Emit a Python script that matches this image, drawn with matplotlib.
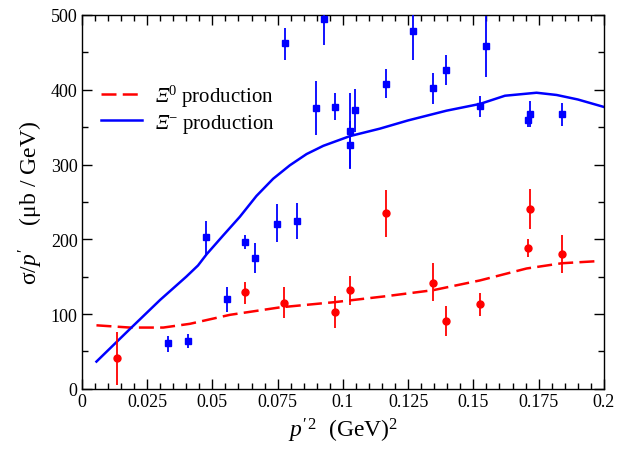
import matplotlib
matplotlib.use("Agg")
import matplotlib.pyplot as plt
from matplotlib.ticker import MultipleLocator, FixedFormatter, FixedLocator

plt.rcParams['font.family'] = ['Liberation Serif', 'DejaVu Serif']
plt.rcParams['mathtext.fontset'] = 'custom'
plt.rcParams['mathtext.rm'] = 'Liberation Serif'
plt.rcParams['mathtext.it'] = 'Liberation Serif:italic'
plt.rcParams['mathtext.bf'] = 'Liberation Serif:bold'
# slanted slot used for the italic capital Xi
plt.rcParams['mathtext.sf'] = 'Liberation Serif:italic'

# Xi^- production data (blue squares)
xm_x = [0.0331, 0.0407, 0.0476, 0.0556, 0.0625, 0.0665, 0.0746, 0.0777, 0.0824,
        0.0898, 0.0927, 0.0969, 0.1027, 0.1027, 0.1045, 0.1167, 0.1267, 0.1345,
        0.1396, 0.1525, 0.1549, 0.1708, 0.1718, 0.1840]
xm_y = [61, 64, 203, 120, 197, 175, 221, 462, 225,
        375, 495, 377, 345, 326, 373, 408, 479, 402,
        427, 378, 458, 359, 368, 367]
xm_lo = [12, 10, 25, 17, 10, 20, 25, 22, 25,
         36, 35, 17, 50, 32, 29, 19, 39, 21,
         21, 14, 41, 9, 18, 16]
xm_hi = [10, 9, 22, 16, 9, 20, 26, 20, 24,
         37, 35, 18, 50, 32, 28, 20, 39, 20,
         20, 13, 41, 9, 17, 15]

# Xi^0 production data (red circles)
x0_x = [0.0134, 0.0625, 0.0775, 0.0969, 0.1027, 0.1167, 0.1345, 0.1396,
        0.1525, 0.1708, 0.1718, 0.1839]
x0_y = [41, 129, 115, 103, 132, 235, 142, 91, 113, 189, 240, 180]
x0_lo = [36, 15, 20, 21, 20, 32, 25, 20, 16, 12, 26, 25]
x0_hi = [35, 14, 21, 21, 19, 31, 26, 20, 15, 11, 27, 26]

# Model curves
curve_m_x = [0.0056, 0.0184, 0.03, 0.04, 0.0445, 0.0478, 0.0541, 0.0605, 0.0669,
             0.0733, 0.0797, 0.0861, 0.0925, 0.1027, 0.1142, 0.125, 0.1397,
             0.1525, 0.1621, 0.1742, 0.1819, 0.19, 0.2]
curve_m_y = [36.5, 80, 119, 150, 165, 180, 205, 230, 258,
             281, 299, 314, 325, 338, 348, 359, 372,
             381, 392, 396, 393, 387, 377]
curve_0_x = [0.0056, 0.0184, 0.0312, 0.0414, 0.0567, 0.0759, 0.0969, 0.1167,
             0.1346, 0.1525, 0.1704, 0.1839, 0.1985]
curve_0_y = [85, 82, 82, 87, 99, 109, 116, 124, 132, 145, 161, 168, 171]

x_ticks = [0, 0.025, 0.05, 0.075, 0.1, 0.125, 0.15, 0.175, 0.2]
x_tick_labels = ['0', '0.025', '0.05', '0.075', '0.1', '0.125', '0.15', '0.175', '0.2']
y_ticks = [0, 100, 200, 300, 400, 500]

fig = plt.figure(figsize=(6.2, 4.56), dpi=100)
ax = fig.add_axes([0.132, 0.145, 0.842, 0.82])

red = '#ff0000'
blue = '#0000ff'

ax.plot(curve_0_x, curve_0_y, color=red, lw=1.8, dashes=(6, 2.5),
        label=r'$\mathsf{\Xi}^{0}$ production')
ax.plot(curve_m_x, curve_m_y, color=blue, lw=1.8,
        label=r'$\mathsf{\Xi}^{-}$ production')

ax.errorbar(xm_x, xm_y, yerr=[xm_lo, xm_hi], fmt='s', color=blue, ms=5,
            elinewidth=1.3, capsize=0, zorder=3)
ax.errorbar(x0_x, x0_y, yerr=[x0_lo, x0_hi], fmt='o', color=red, ms=5,
            elinewidth=1.3, capsize=0, zorder=3)

ax.set_xlim(0, 0.2)
ax.set_ylim(0, 500)
ax.xaxis.set_major_locator(FixedLocator(x_ticks))
ax.xaxis.set_major_formatter(FixedFormatter(x_tick_labels))
ax.xaxis.set_minor_locator(MultipleLocator(0.005))
ax.yaxis.set_major_locator(FixedLocator(y_ticks))
ax.yaxis.set_minor_locator(MultipleLocator(50))
ax.tick_params(which='both', direction='in', top=True, right=True,
               labelsize=13, width=1, pad=3)
ax.tick_params(which='major', length=7)
ax.tick_params(which='minor', length=4)
for s in ax.spines.values():
    s.set_linewidth(1)

ax.set_xlabel(r"$p^{\prime\,2}$  (GeV)$^2$", fontsize=17, labelpad=4)
ax.set_ylabel(r"σ/$p^{\prime}$    (μb / GeV)", fontsize=17, labelpad=4)

ax.legend(loc='upper left', bbox_to_anchor=(0.0, 0.87), frameon=False,
          fontsize=15, handlelength=2.0, handletextpad=0.6, labelspacing=0.15)

fig.savefig('out.png', dpi=100)
